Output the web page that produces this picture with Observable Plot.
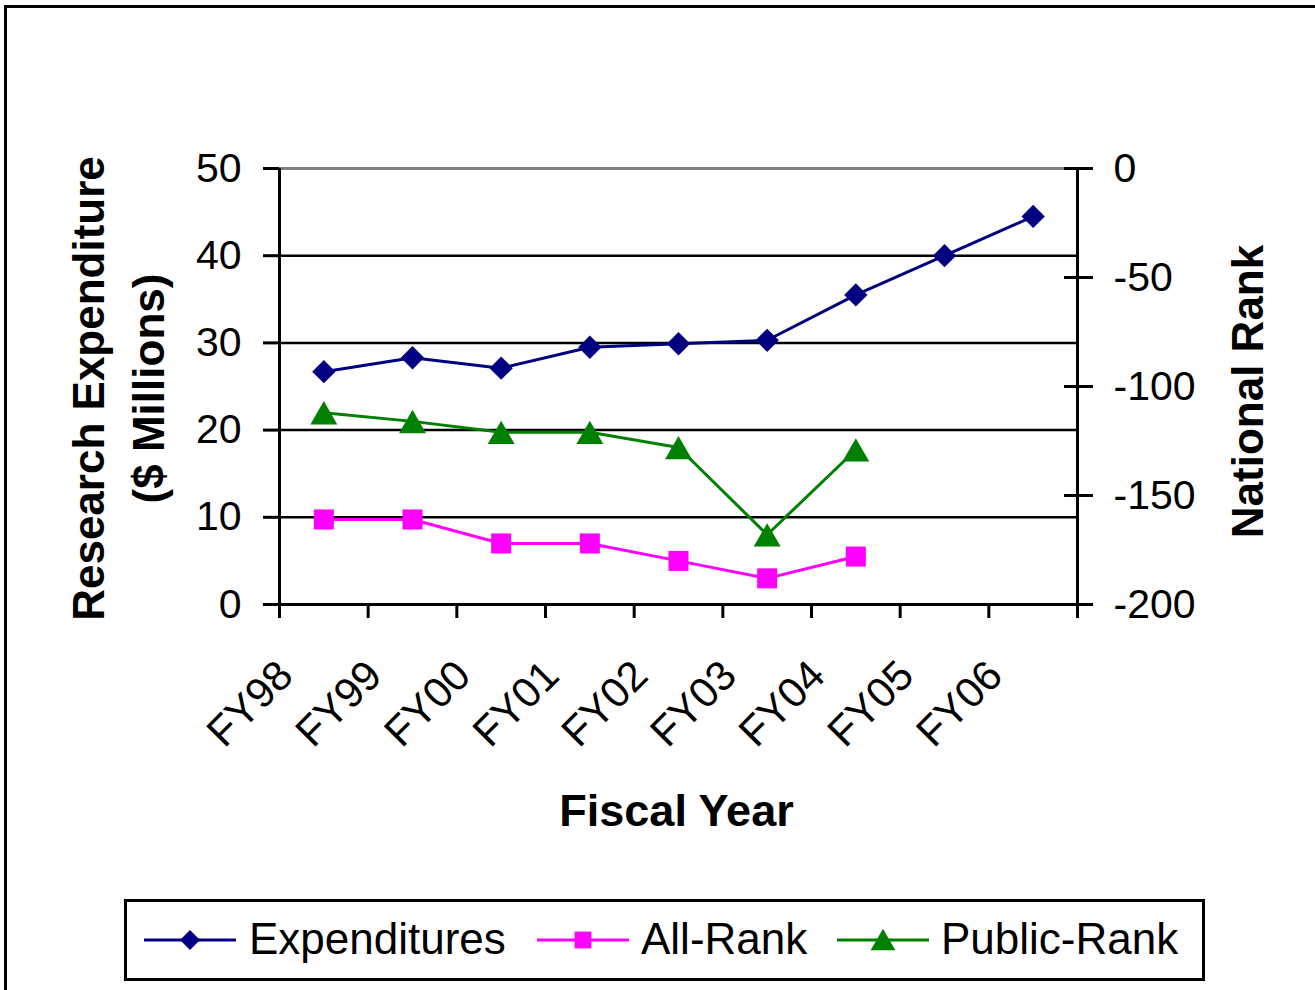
<!DOCTYPE html>
<html>
<head>
<meta charset="utf-8">
<script src="https://cdn.jsdelivr.net/npm/d3@7"></script>
<script src="https://cdn.jsdelivr.net/npm/@observablehq/plot@0.6"></script>
<style>
  html, body { margin: 0; padding: 0; background: #fff; }
  #wrap { position: relative; width: 1315px; height: 990px; overflow: hidden; background: #fff;
          font-family: "Liberation Sans", Arial, Helvetica, sans-serif; }
  #frame { position: absolute; left: 4px; top: 5px; width: 1400px; height: 1100px;
           border: 3px solid #000; box-sizing: border-box; }
  #chart { position: absolute; left: 0; top: 0; }
  #legend { position: absolute; left: 124px; top: 899px; width: 1081px; height: 82px;
            border: 3px solid #000; box-sizing: border-box; background: #fff; }
  .item { position: absolute; top: 0; height: 76px; }
  .item svg { position: absolute; top: 0; left: 0; }
  .item span { position: absolute; top: 12px; font-size: 44px; line-height: 50px; color: #000; white-space: nowrap; }
</style>
</head>
<body>
<div id="wrap">
  <div id="frame"></div>
  <div id="chart"></div>
  <div id="legend"></div>
</div>
<script>
// ---- data ----
const fiscalYears = ["FY98", "FY99", "FY00", "FY01", "FY02", "FY03", "FY04", "FY05", "FY06"];
const expenditures = [26.7, 28.3, 27.1, 29.5, 29.9, 30.3, 35.5, 40.0, 44.5];
const allRankYears = ["FY98", "FY99", "FY00", "FY01", "FY02", "FY03", "FY04"];
const allRank = [-161, -161, -172, -172, -180, -188, -178];
const publicRankYears = ["FY98", "FY99", "FY00", "FY01", "FY02", "FY03", "FY04"];
const publicRank = [-112, -116, -121, -121, -128, -168, -129];
const leftTicks = [0, 10, 20, 30, 40, 50];
const rightTicks = [0, -50, -100, -150, -200];
const seriesNames = ["Expenditures", "All-Rank", "Public-Rank"];
const seriesColors = ["#000080", "#FF00FF", "#008000"];

// ---- helpers ----
const leftMax = 50, rightMin = -200, rightMax = 0;
// map a rank onto the left (expenditure) scale for the secondary axis
const rankToLeft = r => (r - rightMin) / (rightMax - rightMin) * leftMax;
const leftToRank = v => Math.round(v / leftMax * (rightMax - rightMin) + rightMin);
const idx = fy => fiscalYears.indexOf(fy) + 0.5;

const expData = fiscalYears.map((fy, i) => ({fy, value: expenditures[i]}));
const allData = allRankYears.map((fy, i) => ({fy, rank: allRank[i]}));
const pubData = publicRankYears.map((fy, i) => ({fy, rank: publicRank[i]}));
const boundaries = d3.range(fiscalYears.length + 1);
const gridTicks = leftTicks.filter(t => t > 0 && t < leftMax);

const FONT = '"Liberation Sans", Arial, Helvetica, sans-serif';

const chart = Plot.plot({
  width: 1315,
  height: 880,
  marginLeft: 279,
  marginRight: 238,
  marginTop: 168,
  marginBottom: 276,
  style: {fontFamily: FONT, fontSize: "41px", color: "#000", background: "transparent", overflow: "visible"},
  x: {type: "linear", domain: [0, fiscalYears.length], label: null},
  y: {domain: [0, leftMax], label: null},
  marks: [
    // grid lines
    Plot.ruleY(gridTicks, {stroke: "#000", strokeWidth: 2.5}),
    Plot.ruleY([leftMax], {stroke: "#808080", strokeWidth: 3}),
    // left axis
    Plot.axisY({anchor: "left", ticks: leftTicks, tickSize: 16, tickPadding: 22, fontSize: 41,
                strokeWidth: 3, label: null}),
    // right axis (national rank)
    Plot.axisY({anchor: "right", ticks: rightTicks.map(rankToLeft), tickFormat: leftToRank,
                tickSize: 29, dx: -14, tickPadding: 21, fontSize: 41, strokeWidth: 3, label: null}),
    // x axis tick marks at category boundaries
    Plot.axisX({ticks: boundaries, tickFormat: () => "", tickSize: 14, strokeWidth: 3, label: null}),
    // category labels
    Plot.text(fiscalYears, {x: d => idx(d), frameAnchor: "bottom", text: d => d, rotate: -45,
                            textAnchor: "end", lineAnchor: "middle", dx: -38, dy: 64, fontSize: 42}),
    // axis lines
    Plot.ruleY([0], {stroke: "#000", strokeWidth: 3}),
    Plot.ruleX([0, fiscalYears.length], {stroke: "#000", strokeWidth: 3}),
    // series
    Plot.line(expData, {x: d => idx(d.fy), y: "value", stroke: seriesColors[0], strokeWidth: 3}),
    Plot.dot(expData, {x: d => idx(d.fy), y: "value", symbol: "diamond2", r: 10.5, fill: seriesColors[0], stroke: "none"}),
    Plot.line(pubData, {x: d => idx(d.fy), y: d => rankToLeft(d.rank), stroke: seriesColors[2], strokeWidth: 3}),
    Plot.dot(pubData, {x: d => idx(d.fy), y: d => rankToLeft(d.rank), symbol: "triangle", r: 10, dy: 4,
                       fill: seriesColors[2], stroke: "none"}),
    Plot.line(allData, {x: d => idx(d.fy), y: d => rankToLeft(d.rank), stroke: seriesColors[1], strokeWidth: 3}),
    Plot.dot(allData, {x: d => idx(d.fy), y: d => rankToLeft(d.rank), symbol: "square", r: 11.3,
                       fill: seriesColors[1], stroke: "none"}),
    // axis titles
    Plot.text(["Research Expenditure\n($ Millions)"], {frameAnchor: "left", text: d => d, rotate: -90,
              textAnchor: "middle", lineAnchor: "middle", lineHeight: 1.36, dx: -165, dy: 2,
              fontSize: 44, fontWeight: "bold"}),
    Plot.text(["National Rank"], {frameAnchor: "right", text: d => d, rotate: -90,
              textAnchor: "middle", lineAnchor: "middle", dx: 171, dy: 5, fontSize: 44, fontWeight: "bold"}),
    Plot.text(["Fiscal Year"], {frameAnchor: "bottom", text: d => d,
              lineAnchor: "middle", dy: 207, dx: -2, fontSize: 45, fontWeight: "bold"})
  ]
});
document.getElementById("chart").appendChild(chart);

// ---- legend ----
const legend = document.getElementById("legend");
const symbols = ["diamond2", "square", "triangle"];
const symbolR = [9, 9.5, 9.2];
const legendLeft = [16, 409, 709];   // positions of each entry inside the legend box
const legendTextLeft = [122, 514, 814];
seriesNames.forEach((name, i) => {
  const item = document.createElement("div");
  item.className = "item";
  item.style.left = legendLeft[i] + "px";
  const svg = d3.create("svg").attr("width", 96).attr("height", 76);
  svg.append("line").attr("x1", 1).attr("x2", 93).attr("y1", 38).attr("y2", 38)
     .attr("stroke", seriesColors[i]).attr("stroke-width", 3);
  const sym = {diamond2: d3.symbolDiamond2, square: d3.symbolSquare, triangle: d3.symbolTriangle}[symbols[i]];
  svg.append("path").attr("d", d3.symbol(sym, symbolR[i] * symbolR[i] * Math.PI)())
     .attr("transform", `translate(47,${symbols[i] === "triangle" ? 41 : 38})`)
     .attr("fill", seriesColors[i]);
  item.appendChild(svg.node());
  const label = document.createElement("span");
  label.textContent = name;
  label.style.left = (legendTextLeft[i] - legendLeft[i]) + "px";
  item.appendChild(label);
  legend.appendChild(item);
});
</script>
</body>
</html>
